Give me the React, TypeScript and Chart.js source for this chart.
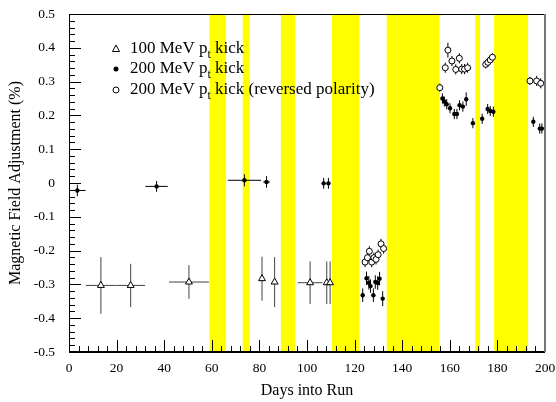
import React, { useEffect, useRef } from 'react';
import { Chart, registerables } from 'chart.js';
Chart.register(...registerables);

const FONT = '"Liberation Serif", "DejaVu Serif", serif';

// Shaded (yellow) day ranges
const bandStart = [59, 73, 89, 110.5, 133.5, 170.7, 178.6];
const bandEnd = [66, 76, 95, 122, 155.7, 172.7, 192.9];

// 100 MeV pt kick (open triangles)
const triX = [13.4, 25.9, 50.4, 81.1, 86.4, 101.3, 108.3, 109.7];
const triY = [-0.303, -0.303, -0.293, -0.283, -0.293, -0.295, -0.295, -0.295];
const triXErr = [6.3, 6.1, 8.4, 0, 0, 5.2, 0, 0];
const triYErr = [0.084, 0.064, 0.05, 0.065, 0.074, 0.063, 0.063, 0.063];

// 200 MeV pt kick (filled circles)
const fillX = [3.5, 36.8, 73.7, 83, 107, 109, 123.4, 125, 126, 126.7, 127.9, 128.7, 129.7, 130.5, 131.8, 156.9, 157.7, 158.7, 160.1, 161.9, 163, 164.1, 165.5, 166.9, 169.7, 173.6, 175.9, 177, 178.3, 195.1, 197.8, 198.7];
const fillY = [-0.022, -0.01, 0.008, 0.003, -0.001, -0.001, -0.332, -0.282, -0.295, -0.305, -0.332, -0.293, -0.296, -0.283, -0.342, 0.25, 0.241, 0.233, 0.221, 0.204, 0.204, 0.23, 0.226, 0.248, 0.177, 0.19, 0.219, 0.213, 0.211, 0.181, 0.161, 0.161];
const fillXErr = [3.5, 4.7, 7, 1.4, 0, 0, 0, 0, 0, 0, 0, 0, 0, 0, 0, 0, 0, 0, 0, 0, 0, 0, 0, 0, 0, 0, 0, 0, 0, 0, 0, 0];
const fillYErr = [0.017, 0.016, 0.018, 0.017, 0.016, 0.016, 0.02, 0.02, 0.02, 0.02, 0.02, 0.02, 0.02, 0.02, 0.022, 0.015, 0.015, 0.015, 0.015, 0.015, 0.015, 0.015, 0.015, 0.02, 0.015, 0.015, 0.015, 0.015, 0.015, 0.015, 0.015, 0.015];

// 200 MeV pt kick, reversed polarity (open circles)
const openX = [124.4, 125.4, 126.2, 127.2, 128.1, 129, 129.9, 131.1, 132.2, 155.8, 158.1, 159.2, 160.9, 162.5, 164, 165, 166.2, 167.5, 175.1, 176, 177, 177.9, 193.7, 196.5, 198.2];
const openY = [-0.234, -0.221, -0.202, -0.234, -0.221, -0.226, -0.212, -0.18, -0.194, 0.282, 0.341, 0.393, 0.361, 0.336, 0.369, 0.337, 0.337, 0.341, 0.351, 0.357, 0.364, 0.372, 0.302, 0.302, 0.295];
const openYErr = [0.015, 0.015, 0.015, 0.015, 0.015, 0.015, 0.015, 0.015, 0.015, 0.012, 0.015, 0.022, 0.015, 0.015, 0.015, 0.015, 0.015, 0.015, 0.012, 0.012, 0.012, 0.012, 0.012, 0.015, 0.015];

const legendLabels = ['100 MeV p', '200 MeV p', '200 MeV p'];
const legendSuffix = [' kick', ' kick', ' kick (reversed polarity)'];
const xTitle = 'Days into Run';
const yTitle = 'Magnetic Field Adjustment (%)';

const pts = (xs: number[], ys: number[], xe: number[] | null, ye: number[]) =>
  xs.map((x, i) => ({ x, y: ys[i], xe: xe ? xe[i] : 0, ye: ye[i] }));

const customPlugin = {
  id: 'custom',
  beforeDatasetsDraw(chart: any) {
    const { ctx, chartArea: a, scales } = chart;
    const xs = scales.x, ys = scales.y;
    ctx.save();
    // bands
    ctx.fillStyle = '#ffff00';
    bandStart.forEach((s, i) => {
      const x0 = xs.getPixelForValue(s), x1 = xs.getPixelForValue(bandEnd[i]);
      ctx.fillRect(x0, a.top, x1 - x0, a.bottom - a.top);
    });
    // error bars
    chart.data.datasets.forEach((ds: any) => {
      ctx.strokeStyle = ds.errColor;
      ctx.lineWidth = 1;
      ds.data.forEach((p: any) => {
        const px = xs.getPixelForValue(p.x), py = ys.getPixelForValue(p.y);
        ctx.beginPath();
        if (p.xe) {
          ctx.moveTo(xs.getPixelForValue(p.x - p.xe), py);
          ctx.lineTo(xs.getPixelForValue(p.x + p.xe), py);
        }
        if (p.ye) {
          ctx.moveTo(px, ys.getPixelForValue(p.y - p.ye));
          ctx.lineTo(px, ys.getPixelForValue(p.y + p.ye));
        }
        ctx.stroke();
      });
    });
    // ticks
    ctx.strokeStyle = '#000';
    ctx.lineWidth = 1;
    ctx.beginPath();
    for (let d = 0; d <= 200; d += 4) {
      const px = Math.round(xs.getPixelForValue(d)) + 0.5;
      const len = d % 20 === 0 ? 12 : 6;
      ctx.moveTo(px, a.bottom);
      ctx.lineTo(px, a.bottom - len);
    }
    for (let k = -25; k <= 25; k++) {
      const v = k * 0.02;
      const py = Math.round(ys.getPixelForValue(v)) + 0.5;
      const len = k % 5 === 0 ? 12 : 6;
      ctx.moveTo(a.left, py);
      ctx.lineTo(a.left + len, py);
    }
    ctx.stroke();
    // frame
    ctx.beginPath();
    ctx.moveTo(a.left + 0.5, a.top + 0.5);
    ctx.lineTo(a.right, a.top + 0.5);
    ctx.moveTo(a.left + 0.5, a.top);
    ctx.lineTo(a.left + 0.5, a.bottom);
    ctx.stroke();
    ctx.lineWidth = 2;
    ctx.beginPath();
    ctx.moveTo(a.left, a.bottom);
    ctx.lineTo(a.right, a.bottom);
    ctx.stroke();
    ctx.strokeStyle = '#777';
    ctx.beginPath();
    ctx.moveTo(a.right, a.top);
    ctx.lineTo(a.right, a.bottom);
    ctx.stroke();
    ctx.restore();
  },
  afterDraw(chart: any) {
    const { ctx, chartArea: a } = chart;
    ctx.save();
    ctx.fillStyle = '#000';
    ctx.textBaseline = 'middle';
    ctx.font = `16px ${FONT}`;
    ctx.textAlign = 'center';
    ctx.fillText(xTitle, (a.left + a.right) / 2, 391);
    ctx.save();
    ctx.translate(16, (a.top + a.bottom) / 2);
    ctx.rotate(-Math.PI / 2);
    ctx.fillText(yTitle, 0, 0);
    ctx.restore();
    // legend
    const lx = 116, tx = 130;
    const rows = [49, 69, 90];
    ctx.textAlign = 'left';
    rows.forEach((ry, i) => {
      ctx.lineWidth = 1;
      ctx.strokeStyle = '#000';
      if (i === 0) {
        ctx.beginPath();
        ctx.moveTo(lx, ry - 4);
        ctx.lineTo(lx + 3.5, ry + 2.5);
        ctx.lineTo(lx - 3.5, ry + 2.5);
        ctx.closePath();
        ctx.fillStyle = '#fff';
        ctx.fill();
        ctx.stroke();
      } else if (i === 1) {
        ctx.beginPath();
        ctx.arc(lx, ry, 2.5, 0, Math.PI * 2);
        ctx.fillStyle = '#000';
        ctx.fill();
      } else {
        ctx.beginPath();
        ctx.arc(lx, ry, 3, 0, Math.PI * 2);
        ctx.fillStyle = '#fff';
        ctx.fill();
        ctx.stroke();
      }
      ctx.fillStyle = '#000';
      ctx.font = `17px ${FONT}`;
      ctx.fillText(legendLabels[i], tx, ry);
      let w = ctx.measureText(legendLabels[i]).width;
      ctx.font = `12px ${FONT}`;
      ctx.fillText('t', tx + w, ry + 6);
      w += ctx.measureText('t').width;
      ctx.font = `17px ${FONT}`;
      ctx.fillText(legendSuffix[i], tx + w, ry);
    });
    ctx.restore();
  },
};

export default function App() {
  const ref = useRef<HTMLCanvasElement>(null);
  useEffect(() => {
    const chart = new Chart(ref.current as HTMLCanvasElement, {
      type: 'scatter',
      data: {
        datasets: [
          {
            data: pts(triX, triY, triXErr, triYErr),
            pointStyle: 'triangle',
            pointRadius: 4,
            backgroundColor: '#fff',
            borderColor: '#000',
            borderWidth: 1,
            errColor: '#444',
          } as any,
          {
            data: pts(fillX, fillY, fillXErr, fillYErr),
            pointStyle: 'circle',
            pointRadius: 2.2,
            backgroundColor: '#000',
            borderColor: '#000',
            borderWidth: 0,
            errColor: '#000',
          } as any,
          {
            data: pts(openX, openY, null, openYErr),
            pointStyle: 'circle',
            pointRadius: 3,
            backgroundColor: '#fff',
            borderColor: '#000',
            borderWidth: 1,
            errColor: '#000',
          } as any,
        ],
      },
      options: {
        responsive: false,
        animation: false,
        events: [],
        layout: { padding: { top: 14, right: 11, left: 0, bottom: 0 } },
        plugins: { legend: { display: false }, tooltip: { enabled: false } },
        scales: {
          x: {
            type: 'linear',
            min: 0,
            max: 200,
            grid: { display: false, drawTicks: false },
            border: { display: false },
            ticks: { stepSize: 20, padding: 8, color: '#000', maxRotation: 0, font: { family: FONT, size: 13.5 } },
            afterFit: (s: any) => { s.height = 50; s.paddingLeft = 0; s.paddingRight = 0; },
          },
          y: {
            type: 'linear',
            min: -0.5,
            max: 0.5,
            grid: { display: false, drawTicks: false },
            border: { display: false },
            ticks: {
              stepSize: 0.1,
              padding: 14,
              color: '#000',
              font: { family: FONT, size: 13.5 },
              callback: (v: any) => String(Math.round(Number(v) * 10) / 10),
            },
            afterFit: (s: any) => { s.width = 69; s.paddingTop = 0; s.paddingBottom = 0; },
          },
        },
      },
      plugins: [customPlugin],
    });
    return () => chart.destroy();
  }, []);
  return (
    <div style={{ position: 'absolute', left: 0, top: 0, background: '#fff' }}>
      <canvas ref={ref} width={556} height={402} style={{ display: 'block' }} />
    </div>
  );
}
